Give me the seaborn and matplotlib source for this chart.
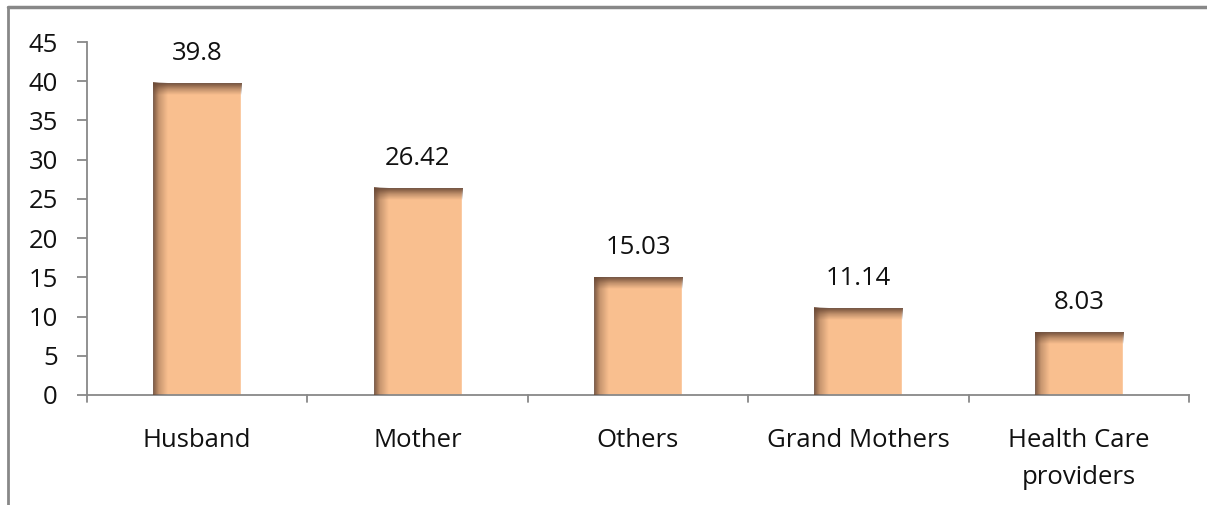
import numpy as np
import pandas as pd
import matplotlib
matplotlib.use("Agg")
import matplotlib.pyplot as plt
import seaborn as sns
from matplotlib.colors import LinearSegmentedColormap

categories = ["Husband", "Mother", "Others", "Grand Mothers", "Health Care\nproviders"]
values = [39.8, 26.42, 15.03, 11.14, 8.03]
value_labels = ["39.8", "26.42", "15.03", "11.14", "8.03"]
yticks = [0, 5, 10, 15, 20, 25, 30, 35, 40, 45]

sns.set_theme(style="white")
plt.rcParams["font.family"] = ["Open Sans", "DejaVu Sans"]
plt.rcParams["font.weight"] = "normal"

FS = 18.5
TXT = "#111111"

fig = plt.figure(figsize=(12.07, 5.05), dpi=100)
ax = fig.add_axes([87 / 1207, 1 - 395 / 505, 1102 / 1207, 353 / 505])

df = pd.DataFrame({"cat": categories, "val": values})
bar_color = "#F9BF8F"
sns.barplot(data=df, x="cat", y="val", color=bar_color, width=0.4,
            saturation=1, ax=ax, zorder=2)

# bevel shading: dark band along the top edge and the left edge of each bar
rgb = (0.42, 0.29, 0.21)
top_cmap = LinearSegmentedColormap.from_list(
    "top", [(0, rgb + (0.0,)), (0.5, rgb + (0.4,)), (1, rgb + (0.95,))])
left_cmap = LinearSegmentedColormap.from_list(
    "left", [(0, rgb + (0.9,)), (0.4, rgb + (0.35,)), (1, rgb + (0.0,))])

px_per_unit = 353 / 45.0
for patch in ax.patches:
    x0 = patch.get_x()
    w = patch.get_width()
    h = patch.get_height()
    top_h = min(12 / px_per_unit, h)
    left_w = w * 0.16
    grad_v = np.linspace(0, 1, 64).reshape(-1, 1)
    ax.imshow(grad_v, cmap=top_cmap, aspect="auto", origin="lower",
              extent=[x0, x0 + w, h - top_h, h], zorder=3, interpolation="bilinear")
    grad_h = np.linspace(0, 1, 64).reshape(1, -1)
    ax.imshow(grad_h, cmap=left_cmap, aspect="auto", origin="lower",
              extent=[x0, x0 + left_w, 0, h], zorder=3, interpolation="bilinear")

for i, (v, lab) in enumerate(zip(values, value_labels)):
    ax.annotate(lab, (i, v), xytext=(0, 12), textcoords="offset points",
                ha="center", va="bottom", fontsize=FS, color=TXT)

ax.set_xlim(-0.5, len(categories) - 0.5)
ax.set_ylim(0, 45)
ax.set_yticks(yticks)
ax.set_yticklabels([str(t) for t in yticks], fontsize=FS, color=TXT)
ax.set_xticks(range(len(categories)))
ax.set_xticklabels(categories, fontsize=FS, color=TXT, linespacing=1.6)
ax.tick_params(axis="x", length=0, pad=24)
ax.tick_params(axis="y", length=7, width=1.3, color="#888888", pad=14, left=True)

# category boundary ticks below the x axis
for b in np.arange(-0.5, len(categories), 1.0):
    ax.plot([b, b], [0, -0.9], color="#888888", lw=1.3, clip_on=False, zorder=4)

for s in ["top", "right"]:
    ax.spines[s].set_visible(False)
for s in ["left", "bottom"]:
    ax.spines[s].set_color("#888888")
    ax.spines[s].set_linewidth(1.3)
ax.set_xlabel("")
ax.set_ylabel("")

# outer frame lines along top and left of the figure
fig.add_artist(plt.Line2D([8 / 1207, 1], [1 - 7 / 505, 1 - 7 / 505],
                          transform=fig.transFigure, color="#888888", lw=2.5))
fig.add_artist(plt.Line2D([8 / 1207, 8 / 1207], [0, 1 - 7 / 505],
                          transform=fig.transFigure, color="#888888", lw=2))

fig.savefig("out.png", dpi=100)
